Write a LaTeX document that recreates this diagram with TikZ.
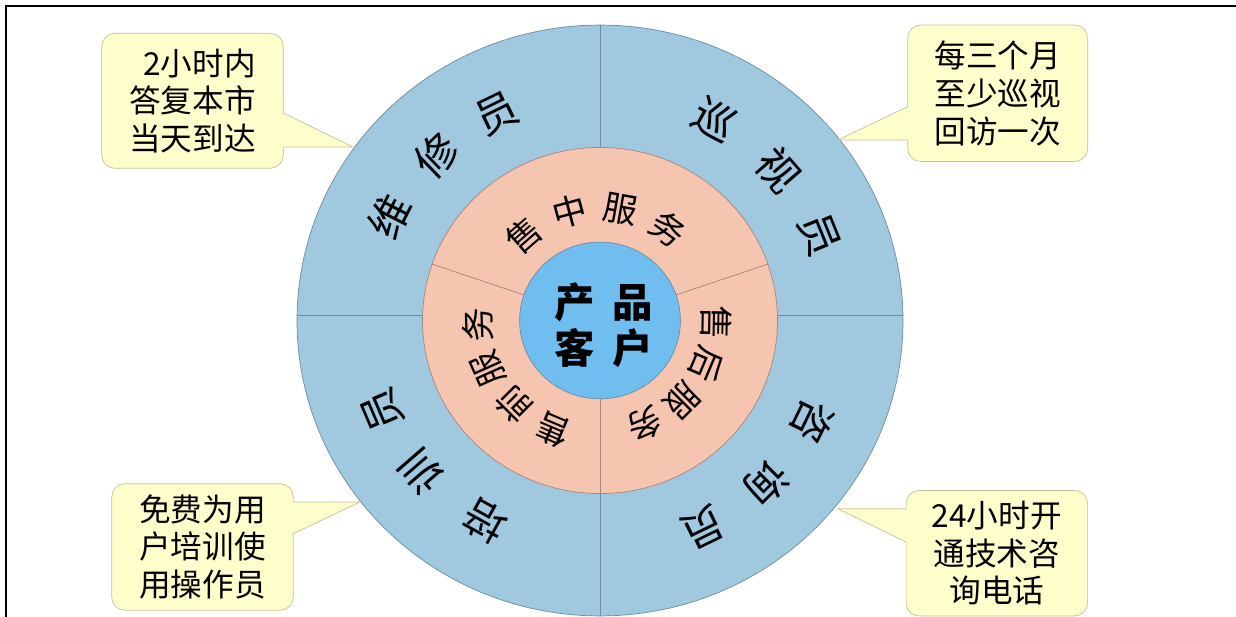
\documentclass[tikz,border=0pt]{standalone}
\usepackage{fontspec}
\newfontfamily\cjk{Noto Sans CJK SC}
\definecolor{ringblue}{RGB}{160,200,223}
\definecolor{ringline}{RGB}{110,140,160}
\definecolor{salmon}{RGB}{245,197,176}
\definecolor{salmonline}{RGB}{165,135,125}
\definecolor{coreblue}{RGB}{112,190,240}
\definecolor{notefill}{RGB}{255,255,204}
\definecolor{noteline}{RGB}{195,195,150}

\begin{document}
\begin{tikzpicture}[x=0.02cm, y=0.02cm,
  note/.style={draw=noteline, fill=notefill, rounded corners=7.4pt, inner sep=0pt,
    align=center, font=\cjk\fontsize{18}{21.5}\selectfont},
  ringch/.style={inner sep=0pt, font=\cjk\fontsize{24}{24}\selectfont},
  servch/.style={inner sep=0pt, font=\cjk\fontsize{19.5}{19.5}\selectfont}]
\useasboundingbox (0,0) rectangle (1236,617);
\draw[line width=1.2pt] (6,0) -- (6,611) -- (1236,611);

% rings
\begin{scope}[shift={(600,296.5)}, yscale=0.975]
\filldraw[fill=ringblue, draw=ringline] (0,0) circle (303);
\draw[ringline] (0,-303) -- (0,303);
\draw[ringline] (-302.9,5.6) -- (302.9,5.6);
\filldraw[fill=salmon, draw=salmonline] (0,0) circle (177.5);
\foreach \a in {19,161,270}
  \draw[salmonline] (\a:80.4) -- (\a:177.5);
\filldraw[fill=coreblue, draw=ringline] (0,0) circle (80.4);
\node[font=\cjk\bfseries\fontsize{23}{26}\selectfont, align=center] (core) at (4,-4.6)
  {产\hspace{0.36cm}品\\客\hspace{0.36cm}户};

% outer ring
\foreach \ch/\a [count=\i] in {维/153,修/134,员/116}
  \node[ringch, rotate=\a-90] (weixiu\i) at (\a:236) {\ch};
\foreach \ch/\a [count=\i] in {巡/61,视/41,员/22}
  \node[ringch, rotate=\a-90] (xunshi\i) at (\a:236) {\ch};
\foreach \ch/\a [count=\i] in {咨/-26,询/-45,员/-64}
  \node[ringch, rotate=\a-90] (zixun\i) at (\a:236) {\ch};
\foreach \ch/\a [count=\i] in {培/241,训/221,员/203}
  \node[ringch, rotate=\a-90] (peixun\i) at (\a:236) {\ch};

% inner ring
\foreach \ch/\a [count=\i] in {售/131,中/105,服/80,务/54}
  \node[servch, rotate=\a-90] (shouzhong\i) at (\a:116) {\ch};
\foreach \ch/\a [count=\i] in {售/-1,后/-23,服/-45,务/-67}
  \node[servch, rotate=\a-90] (shouhou\i) at (\a:116) {\ch};
\foreach \ch/\a [count=\i] in {售/247,前/225,服/204,务/182}
  \node[servch, rotate=\a-90] (shouqian\i) at (\a:122) {\ch};
\end{scope}

% callouts
\node[note, align=right, minimum width=3.63cm, minimum height=2.7cm] (tl) at (192.5,516.2)
  {2小时内\\答复本市\\当天到达};
\coordinate (tlA) at (283.25,504);
\coordinate (tlB) at (283.25,470);
\coordinate (tltip) at (353,470);
\fill[notefill] (281.3,504) -- (tltip) -- (281.3,470) -- cycle;
\draw[noteline] (tlA) -- (tltip) -- (tlB);

\node[note, minimum width=3.6cm, minimum height=2.73cm] (tr) at (997.7,523.7)
  {每三个月\\至少巡视\\回访一次};
\coordinate (trA) at (907.7,510.3);
\coordinate (trB) at (907.7,477);
\coordinate (trtip) at (838,477);
\fill[notefill] (909.7,510.3) -- (trtip) -- (909.7,477) -- cycle;
\draw[noteline] (trA) -- (trtip) -- (trB);

\node[note, minimum width=3.63cm, minimum height=2.53cm] (bl) at (202.5,70)
  {免费为用\\户培训使\\用操作员};
\coordinate (blA) at (293.25,115);
\coordinate (blB) at (293.25,83.3);
\coordinate (bltip) at (360,115);
\fill[notefill] (291.3,115) -- (bltip) -- (291.3,83.3) -- cycle;
\draw[noteline] (blA) -- (bltip) -- (blB);

\node[note, minimum width=3.63cm, minimum height=2.51cm] (br) at (996.85,63.8)
  {24小时开\\通技术咨\\询电话};
\coordinate (brA) at (906,108.3);
\coordinate (brB) at (906,75);
\coordinate (brtip) at (837.7,108.3);
\fill[notefill] (908,108.3) -- (brtip) -- (908,75) -- cycle;
\draw[noteline] (brA) -- (brtip) -- (brB);
\end{tikzpicture}
\end{document}
